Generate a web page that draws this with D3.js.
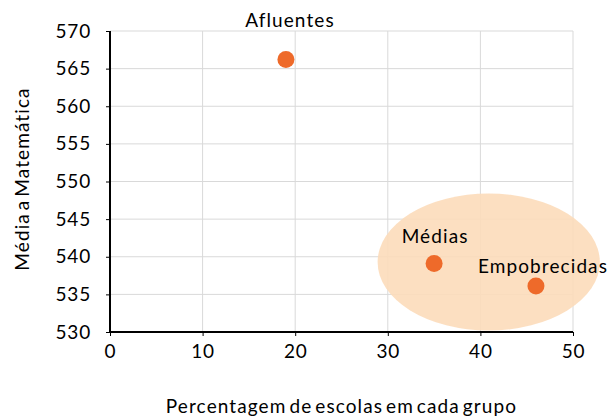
<!DOCTYPE html>
<html>
<head>
<meta charset="utf-8">
<script src="https://cdn.jsdelivr.net/npm/d3@7"></script>
<style>
  body { margin: 0; background: #fff; }
  text { font-family: Lato, "Open Sans", sans-serif; fill: #000; }
</style>
</head>
<body>
<svg id="chart"></svg>
<script>
// data
var groups = ["Afluentes", "Médias", "Empobrecidas"]
var pctEscolas = [19, 35, 46]
var mediaMat = [566.2, 539.1, 536.1]
var xTicks = [0, 10, 20, 30, 40, 50]
var yTicks = [530, 535, 540, 545, 550, 555, 560, 565, 570]
// highlight ellipse around the two lower groups (center x, center y, radius x, radius y) in data units
var highlight = [40.9, 539.3, 12, 9.1]

var screen = {width: 609, height: 418}
var margins = {top: 31, right: 36, bottom: 86, left: 110}
var width = screen.width - margins.left - margins.right
var height = screen.height - margins.top - margins.bottom

var svg = d3.select("#chart")
    .attr("width", screen.width)
    .attr("height", screen.height)

var xScale = d3.scaleLinear().domain([0, 50]).range([0, width])
var yScale = d3.scaleLinear().domain([530, 570]).range([height, 0])

var g = svg.append("g")
    .attr("transform", "translate(" + margins.left + "," + margins.top + ")")

// gridlines
g.append("g").selectAll("line.vg")
    .data(xTicks.slice(1))
    .enter().append("line")
    .attr("x1", d => xScale(d)).attr("x2", d => xScale(d))
    .attr("y1", 0).attr("y2", height)
    .attr("stroke", "#d9d9d9").attr("stroke-width", 1)
g.append("g").selectAll("line.hg")
    .data(yTicks.slice(1))
    .enter().append("line")
    .attr("x1", 0).attr("x2", width)
    .attr("y1", d => yScale(d)).attr("y2", d => yScale(d))
    .attr("stroke", "#d9d9d9").attr("stroke-width", 1)

// shaded ellipse
g.append("ellipse")
    .attr("cx", xScale(highlight[0]))
    .attr("cy", yScale(highlight[1]))
    .attr("rx", xScale(highlight[2]) - xScale(0))
    .attr("ry", yScale(530) - yScale(530 + highlight[3]))
    .attr("fill", "#fcdcba")
    .attr("fill-opacity", 0.9)

// axes
var xAxis = d3.axisBottom(xScale).tickValues(xTicks).tickSize(4).tickPadding(9)
var yAxis = d3.axisLeft(yScale).tickValues(yTicks).tickSize(4).tickPadding(15)

var gx = g.append("g").attr("transform", "translate(0," + height + ")").call(xAxis)
var gy = g.append("g").call(yAxis)
gx.select(".domain").remove()
gy.select(".domain").remove()
gx.selectAll(".tick line").attr("stroke", "#000").attr("stroke-width", 1)
gy.selectAll(".tick line").attr("stroke", "#000").attr("stroke-width", 1)
gx.selectAll("text").style("font-size", "19px").style("font-family", "Lato, sans-serif")
    .style("letter-spacing", "0.8px").attr("fill", "#000")
gy.selectAll("text").style("font-size", "19px").style("font-family", "Lato, sans-serif")
    .style("letter-spacing", "0.8px").attr("fill", "#000")

g.append("line").attr("x1", 0).attr("x2", width).attr("y1", height).attr("y2", height)
    .attr("stroke", "#000").attr("stroke-width", 2)
g.append("line").attr("x1", 0).attr("x2", 0).attr("y1", 0).attr("y2", height)
    .attr("stroke", "#000").attr("stroke-width", 2)

// points
var pts = groups.map(function(d, i) { return {name: d, x: pctEscolas[i], y: mediaMat[i]} })
g.selectAll("circle.pt")
    .data(pts)
    .enter().append("circle")
    .attr("cx", d => xScale(d.x))
    .attr("cy", d => yScale(d.y))
    .attr("r", 8.5)
    .attr("fill", "#ee6a2a")

// labels
var labelOffset = [[4, -33], [1, -21], [7, -13]]
g.selectAll("text.lbl")
    .data(pts)
    .enter().append("text")
    .attr("x", (d, i) => xScale(d.x) + labelOffset[i][0])
    .attr("y", (d, i) => yScale(d.y) + labelOffset[i][1])
    .attr("text-anchor", "middle")
    .style("font-size", "19px")
    .style("letter-spacing", "1.1px")
    .text(d => d.name)

// axis titles
svg.append("text")
    .text("Percentagem de escolas em cada grupo")
    .attr("x", margins.left + width / 2)
    .attr("y", 413)
    .attr("text-anchor", "middle")
    .style("font-size", "19px")
    .style("letter-spacing", "1.1px")
    .style("word-spacing", "-3px")
svg.append("text")
    .text("Média a Matemática")
    .attr("transform", "translate(29,179) rotate(-90)")
    .attr("text-anchor", "middle")
    .style("font-size", "19px")
    .style("letter-spacing", "1.1px")
    .style("word-spacing", "-3px")
</script>
</body>
</html>
